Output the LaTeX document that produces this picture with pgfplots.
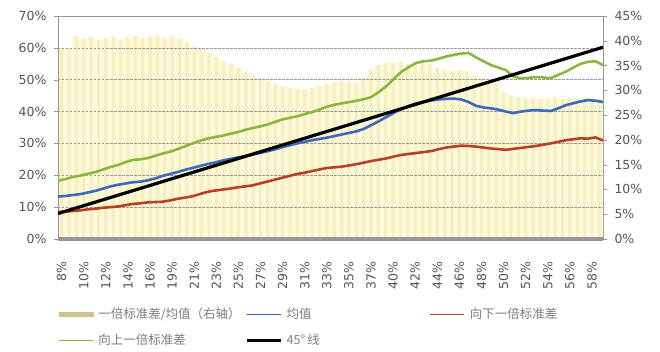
\documentclass[border=0pt]{standalone}
\usepackage{pgfplots}
\pgfplotsset{compat=1.18}
\usepackage{pgfplotstable}
\usepackage{fontspec}
\setmainfont{DejaVu Sans}
\newfontfamily\cjk{Noto Sans CJK SC}
\definecolor{cblue}{RGB}{62,104,190}
\definecolor{cred}{RGB}{188,62,38}
\definecolor{cgreen}{RGB}{138,184,62}
\definecolor{barbg}{RGB}{253,250,226}
\definecolor{barfg}{RGB}{247,240,186}
\definecolor{legbar}{RGB}{206,196,140}
\definecolor{lblgray}{RGB}{85,85,85}
\definecolor{leggray}{RGB}{125,125,125}
\definecolor{axgray}{RGB}{150,150,150}
\pgfplotstableread{
i B R G W
0 13.3 8.5 18.3 38.5
1 13.5 8.6 18.8 38.6
2 13.8 8.8 19.5 41.0
3 14.1 9.0 19.9 40.4
4 14.6 9.3 20.5 40.8
5 15.1 9.5 21.0 40.2
6 15.8 9.8 21.8 40.6
7 16.5 10.0 22.6 40.9
8 17.0 10.2 23.2 40.3
9 17.4 10.6 24.1 40.7
10 17.8 11.0 24.8 41.0
11 18.0 11.2 25.0 40.5
12 18.4 11.5 25.4 40.8
13 19.0 11.6 26.1 41.1
14 19.8 11.7 26.8 40.6
15 20.4 12.1 27.4 40.9
16 21.0 12.6 28.2 40.4
17 21.7 13.0 29.1 39.8
18 22.3 13.4 30.0 38.8
19 22.9 14.1 30.8 38.3
20 23.5 14.8 31.5 37.6
21 24.0 15.2 32.0 36.7
22 24.6 15.5 32.4 35.9
23 25.1 15.8 33.0 35.3
24 25.6 16.2 33.5 34.6
25 26.0 16.5 34.2 33.8
26 26.5 16.8 34.8 33.0
27 27.0 17.4 35.3 32.4
28 27.5 18.0 35.9 31.8
29 28.1 18.6 36.7 31.2
30 28.8 19.2 37.5 30.8
31 29.4 19.8 38.0 30.4
32 30.0 20.4 38.5 30.3
33 30.5 20.8 39.2 30.2
34 31.0 21.3 39.8 30.5
35 31.4 21.8 40.6 30.9
36 31.8 22.3 41.5 31.3
37 32.3 22.5 42.1 31.6
38 32.8 22.7 42.6 31.8
39 33.3 23.1 43.0 31.7
40 33.8 23.5 43.4 31.6
41 34.6 24.0 43.9 32.5
42 35.8 24.5 44.6 34.2
43 37.0 24.9 46.2 35.2
44 38.3 25.3 48.0 35.6
45 39.6 25.9 50.3 35.5
46 40.8 26.4 52.5 35.7
47 41.8 26.7 54.0 35.4
48 42.6 27.0 55.3 35.6
49 43.1 27.3 55.8 35.5
50 43.5 27.6 56.0 35.3
51 43.8 28.2 56.6 34.5
52 44.0 28.7 57.3 34.2
53 44.1 29.0 57.8 34.0
54 43.8 29.3 58.2 34.1
55 43.0 29.2 58.4 33.9
56 41.8 29.0 57.0 33.0
57 41.3 28.7 55.8 32.2
58 41.0 28.4 54.6 31.9
59 40.6 28.2 53.8 31.4
60 40.0 28.0 53.0 29.6
61 39.5 28.3 51.0 29.0
62 40.0 28.6 50.4 28.6
63 40.3 28.9 50.6 28.4
64 40.5 29.2 50.8 28.5
65 40.3 29.6 50.7 28.3
66 40.2 30.0 50.5 28.4
67 41.0 30.5 51.5 28.6
68 42.0 31.0 52.5 28.3
69 42.6 31.3 53.8 28.5
70 43.2 31.6 55.0 28.4
71 43.6 31.5 55.6 28.6
72 43.4 31.9 55.8 28.4
73 43.0 30.9 54.6 28.3
}\data
\begin{document}
\begin{tikzpicture}
\pgfplotsset{
  every axis/.append style={
    scale only axis, width=545pt, height=223pt,
    xmin=-0.5, xmax=73.5,
    tick label style={font=\fontsize{12.5}{14}\selectfont, text=lblgray},
    tick align=outside, major tick length=4pt,
  }
}
% right axis: bars
\begin{axis}[
  ymin=0, ymax=45,
  axis y line*=right, axis x line=none,
  y axis line style={-, draw=axgray},
  ytick={0,5,10,15,20,25,30,35,40,45},
  yticklabels={0\%,5\%,10\%,15\%,20\%,25\%,30\%,35\%,40\%,45\%},
  ytick style={draw=axgray},
  yticklabel style={xshift=4pt},
]
\addplot[ybar, bar width=7.36pt, bar shift=0pt, fill=barbg, draw=none] table[x=i,y=W]{\data};
\addplot[ybar, bar width=3.4pt, bar shift=0pt, fill=barfg, draw=none] table[x=i,y=W]{\data};
\end{axis}
% left axis: lines
\begin{axis}[
  ymin=0, ymax=70,
  axis y line*=left, axis x line*=bottom,
  axis line style={-, draw=axgray},
  x axis line style={-, line width=3.5pt, draw=axgray},
  ytick={0,10,20,30,40,50,60,70},
  yticklabels={0\%,10\%,20\%,30\%,40\%,50\%,60\%,70\%},
  ytick style={draw=axgray},
  yticklabel style={xshift=-4pt},
  ymajorgrids, grid style={dash pattern=on 2.5pt off 1.5pt, draw=gray!80, line width=0.6pt},
  extra y ticks={70}, extra y tick labels={},
  extra y tick style={major grid style={solid, draw=axgray, line width=0.6pt}},
  xtick={0,3,...,72},
  xticklabels={8\%,10\%,12\%,14\%,16\%,19\%,21\%,23\%,25\%,27\%,29\%,31\%,33\%,35\%,37\%,40\%,42\%,44\%,46\%,48\%,50\%,52\%,54\%,56\%,58\%},
  xticklabel style={rotate=90, anchor=east},
  xticklabel shift=15pt,
  x tick style={draw=none},
  legend columns=3,
  legend cell align=left,
  legend style={at={(0,-0.30)}, anchor=north west, draw=none, fill=none,
    font=\cjk\fontsize{12.5}{14}\selectfont, text=leggray, row sep=10pt,
    inner sep=0pt,
    /tikz/every odd column/.append style={column sep=3pt},
    /tikz/every even column/.append style={column sep=3pt}},
  legend image code/.code={\draw[#1] (0pt,0pt) -- (34pt,0pt);},
]
\addlegendimage{legend image code/.code={\fill[legbar] (0pt,-2.2pt) rectangle (34pt,2.2pt);}}
\addlegendentry{\makebox[142pt][l]{一倍标准差/均值（右轴）}}
\addlegendimage{cblue, line width=1.1pt}
\addlegendentry{\makebox[138pt][l]{均值}}
\addlegendimage{cred, line width=1.1pt}
\addlegendentry{向下一倍标准差}
\addlegendimage{cgreen, line width=1.1pt}
\addlegendentry{向上一倍标准差}
\addlegendimage{black, line width=2.4pt}
\addlegendentry{45°\,线}
\addplot[forget plot, cgreen, line width=2.6pt] table[x expr=\thisrow{i}*74/73-0.5, y=G]{\data};
\addplot[forget plot, cblue, line width=2.6pt] table[x expr=\thisrow{i}*74/73-0.5, y=B]{\data};
\addplot[forget plot, cred, line width=2.6pt] table[x expr=\thisrow{i}*74/73-0.5, y=R]{\data};
\addplot[forget plot, black, line width=3.2pt] coordinates {(-0.5,8.0) (73.5,60.2)};
\end{axis}
\path[use as bounding box] (-58pt,-112pt) rectangle (602pt,239pt);
\end{tikzpicture}
\end{document}
